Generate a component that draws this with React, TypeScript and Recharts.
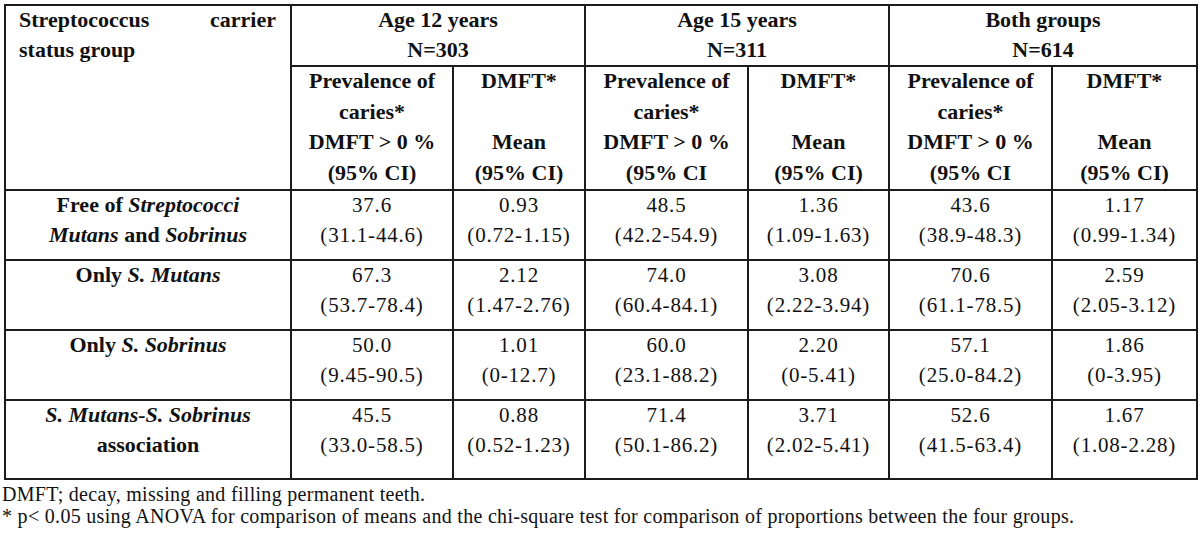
import React from "react";
import { ComposedChart, XAxis, YAxis, Customized } from "recharts";

// ---------- data ----------
const groupTitles = ["Age 12 years", "Age 15 years", "Both groups"];
const groupN = ["N=303", "N=311", "N=614"];
const prevHeader12 = ["Prevalence of", "caries*", "DMFT > 0 %", "(95% CI)"];
const prevHeader15 = ["Prevalence of", "caries*", "DMFT > 0 %", "(95% CI"];
const prevHeaderAll = ["Prevalence of", "caries*", "DMFT > 0 %", "(95% CI"];
const dmftHeader = ["DMFT*", "", "Mean", "(95% CI)"];

type Part = { t: string; i?: boolean };
const rowLabels: Part[][][] = [
  [[{ t: "Free of " }, { t: "Streptococci", i: true }], [{ t: "Mutans", i: true }, { t: " and " }, { t: "Sobrinus", i: true }]],
  [[{ t: "Only " }, { t: "S. Mutans", i: true }]],
  [[{ t: "Only " }, { t: "S. Sobrinus", i: true }]],
  [[{ t: "S. Mutans-S. Sobrinus", i: true }], [{ t: "association" }]],
];

const prev12 = ["37.6", "67.3", "50.0", "45.5"];
const prev12CI = ["(31.1-44.6)", "(53.7-78.4)", "(9.45-90.5)", "(33.0-58.5)"];
const dmft12 = ["0.93", "2.12", "1.01", "0.88"];
const dmft12CI = ["(0.72-1.15)", "(1.47-2.76)", "(0-12.7)", "(0.52-1.23)"];
const prev15 = ["48.5", "74.0", "60.0", "71.4"];
const prev15CI = ["(42.2-54.9)", "(60.4-84.1)", "(23.1-88.2)", "(50.1-86.2)"];
const dmft15 = ["1.36", "3.08", "2.20", "3.71"];
const dmft15CI = ["(1.09-1.63)", "(2.22-3.94)", "(0-5.41)", "(2.02-5.41)"];
const prevAll = ["43.6", "70.6", "57.1", "52.6"];
const prevAllCI = ["(38.9-48.3)", "(61.1-78.5)", "(25.0-84.2)", "(41.5-63.4)"];
const dmftAll = ["1.17", "2.59", "1.86", "1.67"];
const dmftAllCI = ["(0.99-1.34)", "(2.05-3.12)", "(0-3.95)", "(1.08-2.28)"];

const footnotes = [
  "DMFT; decay, missing and filling permanent teeth.",
  "* p< 0.05 using ANOVA for comparison of means and the chi-square test for comparison of proportions between the four groups.",
];

// ---------- layout ----------
const W = 1200;
const H = 539;
const colX = [5, 291, 453, 585, 748, 889, 1052, 1197];
const rowY = [5, 66, 190, 260, 330, 400, 479];
const FONT = "'Liberation Serif', 'Times New Roman', serif";
const LINE = "#1c1c1c";
const INK = "#111";

const TableLayer = () => {
  const els: React.ReactNode[] = [];
  const cx = (c: number) => (colX[c] + colX[c + 1]) / 2;
  const headerProps = { fontFamily: FONT, fontSize: 22, fontWeight: 700, fill: INK, textAnchor: "middle" as const };
  const dataProps = { fontFamily: FONT, fontSize: 21, fill: INK, textAnchor: "middle" as const, letterSpacing: 0.8 };

  // header cell 0
  els.push(
    <text key="h0a" x={19} y={rowY[0] + 22} {...headerProps} textAnchor="start">Streptococcus</text>,
    <text key="h0b" x={276} y={rowY[0] + 22} {...headerProps} textAnchor="end">carrier</text>,
    <text key="h0c" x={19} y={rowY[0] + 52} {...headerProps} textAnchor="start">status group</text>
  );
  // group headers
  groupTitles.forEach((g, k) => {
    const x = (colX[1 + 2 * k] + colX[3 + 2 * k]) / 2;
    els.push(
      <text key={`g${k}`} x={x} y={rowY[0] + 22} {...headerProps}>{g}</text>,
      <text key={`n${k}`} x={x} y={rowY[0] + 52} {...headerProps}>{groupN[k]}</text>
    );
  });
  // sub headers
  const subHeaders = [prevHeader12, dmftHeader, prevHeader15, dmftHeader, prevHeaderAll, dmftHeader];
  subHeaders.forEach((lines, c) => {
    lines.forEach((ln, j) => {
      if (!ln) return;
      els.push(
        <text key={`s${c}-${j}`} x={cx(c + 1)} y={rowY[1] + 22 + j * 30.7} {...headerProps}>{ln}</text>
      );
    });
  });
  // data rows
  const cols = [
    [prev12, prev12CI], [dmft12, dmft12CI], [prev15, prev15CI],
    [dmft15, dmft15CI], [prevAll, prevAllCI], [dmftAll, dmftAllCI],
  ];
  rowLabels.forEach((lines, r) => {
    const top = rowY[2 + r];
    lines.forEach((parts, j) => {
      els.push(
        <text key={`l${r}-${j}`} x={cx(0)} y={top + 22 + j * 30} {...headerProps}>
          {parts.map((p, q) => (
            <tspan key={q} fontStyle={p.i ? "italic" : "normal"}>{p.t}</tspan>
          ))}
        </text>
      );
    });
    cols.forEach(([v, ci], c) => {
      els.push(
        <text key={`v${r}-${c}`} x={cx(c + 1)} y={top + 22} {...dataProps}>{v[r]}</text>,
        <text key={`c${r}-${c}`} x={cx(c + 1)} y={top + 52} {...dataProps}>{ci[r]}</text>
      );
    });
  });
  // grid lines
  // horizontal full lines
  [0, 2, 3, 4, 5, 6].forEach((i) => {
    els.push(<line key={`hl${i}`} x1={colX[0] - 1} x2={colX[7] + 1} y1={rowY[i]} y2={rowY[i]} stroke={LINE} strokeWidth={2} />);
  });
  // header divider under group titles (not in first column)
  els.push(<line key="hl1" x1={colX[1]} x2={colX[7]} y1={rowY[1]} y2={rowY[1]} stroke={LINE} strokeWidth={2} />);
  // vertical lines
  [0, 1, 3, 5, 7].forEach((c) => {
    els.push(<line key={`vl${c}`} x1={colX[c]} x2={colX[c]} y1={rowY[0]} y2={rowY[6]} stroke={LINE} strokeWidth={2} />);
  });
  [2, 4, 6].forEach((c) => {
    els.push(<line key={`vs${c}`} x1={colX[c]} x2={colX[c]} y1={rowY[1]} y2={rowY[6]} stroke={LINE} strokeWidth={2} />);
  });
  // footnotes
  footnotes.forEach((f, j) => {
    els.push(
      <text key={`f${j}`} x={2} y={501 + j * 22} fontFamily={FONT} fontSize={20} fill={INK} letterSpacing={0.3}>{f}</text>
    );
  });
  return <g>{els}</g>;
};

export default function App() {
  return (
    <div style={{ position: "absolute", left: 0, top: 0, width: W, height: H, background: "#fff" }}>
      <ComposedChart width={W} height={H} data={prev12.map((p, i) => ({ i, p }))} margin={{ top: 0, right: 0, bottom: 0, left: 0 }}>
        <XAxis dataKey="i" hide />
        <YAxis hide />
        <Customized component={<TableLayer />} />
      </ComposedChart>
    </div>
  );
}
